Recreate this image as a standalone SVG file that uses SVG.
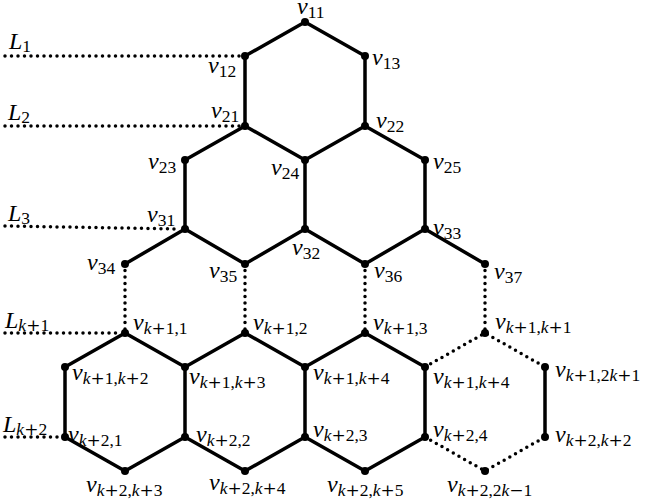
<svg xmlns="http://www.w3.org/2000/svg" width="646" height="499" viewBox="0 0 646 499">
<style>
.e{fill:none;stroke:#000;stroke-width:3.5;stroke-linejoin:round}
.d{fill:none;stroke:#000;stroke-width:3.5;stroke-linecap:round;stroke-dasharray:0 6.5}
.n{fill:#000}
text{font-family:"Liberation Serif","Times New Roman",serif;font-size:24px;font-style:italic;fill:#000}
.s{font-size:17.5px;font-style:normal}
.k{font-style:italic}
.o{font-family:"DejaVu Serif","Liberation Serif",serif;font-size:17px}
</style>
<g id="connectors">
<path class="e" d="M245,56 L305,22 L365,56 L365,126 L425,160 L425,229 L485,264 M365,126 L305,160 L245,126 L245,56 M245,126 L185,160 L185,229 L125,264 M185,229 L245,264 L305,229 L305,160 M305,229 L365,264 L425,229"/>
<path class="e" d="M65,367 L125,333 L185,367 L245,333 L305,367 L365,333 L425,367 L425,437 L365,471 L305,437 L245,471 L185,437 L125,471 L65,437 Z M185,367 L185,437 M305,367 L305,437 M545,367 L545,437"/>
<path class="d" d="M125,264 L125,333 M245,264 L245,333 M365,264 L365,333 M485,264 L485,333"/>
<path class="d" d="M425,367 L485,333 L545,367 M425,437 L485,471 L545,437"/>
<path class="d" d="M5,56 L240,56 M5,126 L240,126 M5,226 L180,229 M5,333 L120,333 M5,437 L60,437"/>
</g>
<g id="nodes">
<g id="n11"><circle class="n" cx="305" cy="22" r="4"/><text x="297" y="14">v<tspan class="s" dy="4">11</tspan></text></g>
<g id="n12"><circle class="n" cx="245" cy="56" r="4"/><text x="208" y="73">v<tspan class="s" dy="4">12</tspan></text></g>
<g id="n13"><circle class="n" cx="365" cy="56" r="4"/><text x="372" y="65">v<tspan class="s" dy="4">13</tspan></text></g>
<g id="n21"><circle class="n" cx="245" cy="126" r="4"/><text x="211" y="118">v<tspan class="s" dy="4">21</tspan></text></g>
<g id="n22"><circle class="n" cx="365" cy="126" r="4"/><text x="376" y="128">v<tspan class="s" dy="4">22</tspan></text></g>
<g id="n23"><circle class="n" cx="185" cy="160" r="4"/><text x="148" y="169">v<tspan class="s" dy="4">23</tspan></text></g>
<g id="n24"><circle class="n" cx="305" cy="160" r="4"/><text x="271" y="175">v<tspan class="s" dy="4">24</tspan></text></g>
<g id="n25"><circle class="n" cx="425" cy="160" r="4"/><text x="433" y="169">v<tspan class="s" dy="4">25</tspan></text></g>
<g id="n31"><circle class="n" cx="185" cy="229" r="4"/><text x="147" y="222">v<tspan class="s" dy="4">31</tspan></text></g>
<g id="n32"><circle class="n" cx="305" cy="229" r="4"/><text x="292" y="255">v<tspan class="s" dy="4">32</tspan></text></g>
<g id="n33"><circle class="n" cx="425" cy="229" r="4"/><text x="433" y="235">v<tspan class="s" dy="4">33</tspan></text></g>
<g id="n34"><circle class="n" cx="125" cy="264" r="4"/><text x="87" y="270">v<tspan class="s" dy="4">34</tspan></text></g>
<g id="n35"><circle class="n" cx="245" cy="264" r="4"/><text x="209" y="278">v<tspan class="s" dy="4">35</tspan></text></g>
<g id="n36"><circle class="n" cx="365" cy="264" r="4"/><text x="374" y="278">v<tspan class="s" dy="4">36</tspan></text></g>
<g id="n37"><circle class="n" cx="485" cy="264" r="4"/><text x="494" y="279">v<tspan class="s" dy="4">37</tspan></text></g>
<g id="nk1_1"><circle class="n" cx="125" cy="333" r="4"/><text x="133" y="330">v<tspan class="s" dy="4"><tspan class="k">k</tspan><tspan class="o">+</tspan>1,1</tspan></text></g>
<g id="nk1_2"><circle class="n" cx="245" cy="333" r="4"/><text x="253" y="330">v<tspan class="s" dy="4"><tspan class="k">k</tspan><tspan class="o">+</tspan>1,2</tspan></text></g>
<g id="nk1_3"><circle class="n" cx="365" cy="333" r="4"/><text x="373" y="330">v<tspan class="s" dy="4"><tspan class="k">k</tspan><tspan class="o">+</tspan>1,3</tspan></text></g>
<g id="nk1_k1"><circle class="n" cx="485" cy="333" r="4"/><text x="495" y="329">v<tspan class="s" dy="4"><tspan class="k">k</tspan><tspan class="o">+</tspan>1,<tspan class="k">k</tspan><tspan class="o">+</tspan>1</tspan></text></g>
<g id="nk1_k2"><circle class="n" cx="65" cy="367" r="4"/><text x="72" y="380">v<tspan class="s" dy="4"><tspan class="k">k</tspan><tspan class="o">+</tspan>1,<tspan class="k">k</tspan><tspan class="o">+</tspan>2</tspan></text></g>
<g id="nk1_k3"><circle class="n" cx="185" cy="367" r="4"/><text x="189" y="384">v<tspan class="s" dy="4"><tspan class="k">k</tspan><tspan class="o">+</tspan>1,<tspan class="k">k</tspan><tspan class="o">+</tspan>3</tspan></text></g>
<g id="nk1_k4a"><circle class="n" cx="305" cy="367" r="4"/><text x="313" y="380">v<tspan class="s" dy="4"><tspan class="k">k</tspan><tspan class="o">+</tspan>1,<tspan class="k">k</tspan><tspan class="o">+</tspan>4</tspan></text></g>
<g id="nk1_k4b"><circle class="n" cx="425" cy="367" r="4"/><text x="433" y="384">v<tspan class="s" dy="4"><tspan class="k">k</tspan><tspan class="o">+</tspan>1,<tspan class="k">k</tspan><tspan class="o">+</tspan>4</tspan></text></g>
<g id="nk1_2k1"><circle class="n" cx="545" cy="367" r="4"/><text x="555" y="377">v<tspan class="s" dy="4"><tspan class="k">k</tspan><tspan class="o">+</tspan>1,2<tspan class="k">k</tspan><tspan class="o">+</tspan>1</tspan></text></g>
<g id="nk2_1"><circle class="n" cx="65" cy="437" r="4"/><text x="68" y="442">v<tspan class="s" dy="4"><tspan class="k">k</tspan><tspan class="o">+</tspan>2,1</tspan></text></g>
<g id="nk2_2"><circle class="n" cx="185" cy="437" r="4"/><text x="196" y="442">v<tspan class="s" dy="4"><tspan class="k">k</tspan><tspan class="o">+</tspan>2,2</tspan></text></g>
<g id="nk2_3"><circle class="n" cx="305" cy="437" r="4"/><text x="313" y="437">v<tspan class="s" dy="4"><tspan class="k">k</tspan><tspan class="o">+</tspan>2,3</tspan></text></g>
<g id="nk2_4"><circle class="n" cx="425" cy="437" r="4"/><text x="433" y="437">v<tspan class="s" dy="4"><tspan class="k">k</tspan><tspan class="o">+</tspan>2,4</tspan></text></g>
<g id="nk2_k2"><circle class="n" cx="545" cy="437" r="4"/><text x="555" y="442">v<tspan class="s" dy="4"><tspan class="k">k</tspan><tspan class="o">+</tspan>2,<tspan class="k">k</tspan><tspan class="o">+</tspan>2</tspan></text></g>
<g id="nk2_k3"><circle class="n" cx="125" cy="471" r="4"/><text x="86" y="492">v<tspan class="s" dy="4"><tspan class="k">k</tspan><tspan class="o">+</tspan>2,<tspan class="k">k</tspan><tspan class="o">+</tspan>3</tspan></text></g>
<g id="nk2_k4"><circle class="n" cx="245" cy="471" r="4"/><text x="209" y="490">v<tspan class="s" dy="4"><tspan class="k">k</tspan><tspan class="o">+</tspan>2,<tspan class="k">k</tspan><tspan class="o">+</tspan>4</tspan></text></g>
<g id="nk2_k5"><circle class="n" cx="365" cy="471" r="4"/><text x="327" y="492">v<tspan class="s" dy="4"><tspan class="k">k</tspan><tspan class="o">+</tspan>2,<tspan class="k">k</tspan><tspan class="o">+</tspan>5</tspan></text></g>
<g id="nk2_2k1"><circle class="n" cx="485" cy="471" r="4"/><text x="447" y="492">v<tspan class="s" dy="4"><tspan class="k">k</tspan><tspan class="o">+</tspan>2,2<tspan class="k">k</tspan><tspan class="o">−</tspan>1</tspan></text></g>
</g>
<g id="levels">
<text x="9" y="49">L<tspan class="s" dy="3">1</tspan></text>
<text x="8" y="120">L<tspan class="s" dy="3">2</tspan></text>
<text x="8" y="221">L<tspan class="s" dy="3">3</tspan></text>
<text x="5" y="328">L<tspan class="s" dy="3"><tspan class="k">k</tspan><tspan class="o">+</tspan>1</tspan></text>
<text x="3" y="432">L<tspan class="s" dy="3"><tspan class="k">k</tspan><tspan class="o">+</tspan>2</tspan></text>
</g>
</svg>
